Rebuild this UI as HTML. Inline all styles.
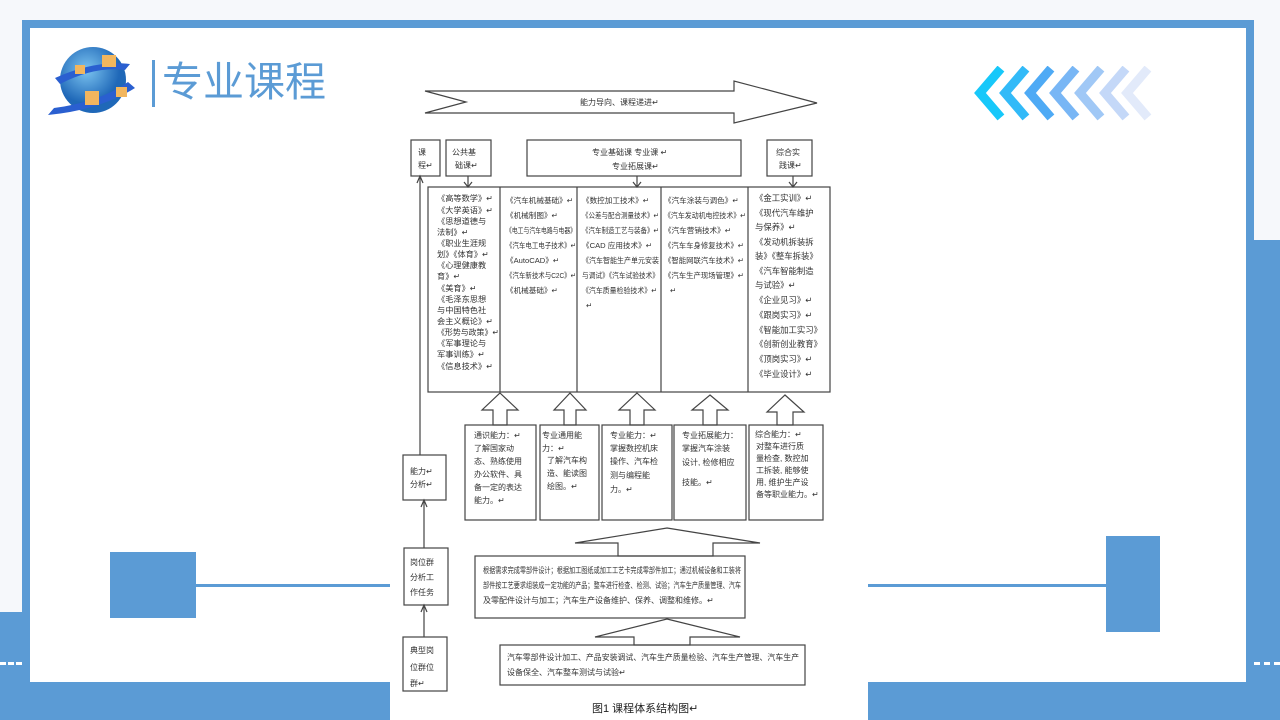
<!DOCTYPE html>
<html><head><meta charset="utf-8"><style>
html,body{margin:0;padding:0;width:1280px;height:720px;overflow:hidden;background:#f6f8fb;position:relative;font-family:"Liberation Sans","Noto Sans CJK SC",sans-serif}
.a{position:absolute}
</style></head><body>
<div class="a" style="left:0;top:612px;width:30px;height:108px;background:#5b9bd5"></div>
<div class="a" style="left:1246px;top:240px;width:34px;height:480px;background:#5b9bd5"></div>
<div class="a" style="left:0;top:682px;width:1280px;height:38px;background:#5b9bd5"></div>
<div class="a" style="left:22px;top:20px;width:1232px;height:662px;background:#5b9bd5"></div>
<div class="a" style="left:30px;top:28px;width:1216px;height:654px;background:#fff"></div>
<div class="a" style="left:0;top:662px;width:22px;height:0;border-top:3px dashed #fff"></div>
<div class="a" style="left:1254px;top:662px;width:26px;height:0;border-top:3px dashed #fff"></div>
<div class="a" style="left:110px;top:552px;width:86px;height:66px;background:#5b9bd5"></div>
<div class="a" style="left:196px;top:584px;width:194px;height:3px;background:#5b9bd5"></div>
<div class="a" style="left:1106px;top:536px;width:54px;height:96px;background:#5b9bd5"></div>
<div class="a" style="left:868px;top:584px;width:238px;height:3px;background:#5b9bd5"></div>
<div class="a" style="left:152px;top:60px;width:3px;height:47px;background:#5b9bd5"></div>
<div class="a" style="left:162px;top:56px;font-size:41px;color:#5b9bd5;line-height:52px">专业课程</div>
<svg class="a" style="left:40px;top:40px" width="100" height="80">
<defs><radialGradient id="g" cx="40%" cy="35%"><stop offset="0" stop-color="#7cc4f0"/><stop offset="1" stop-color="#1f68b8"/></radialGradient></defs>
<circle cx="53" cy="40" r="33" fill="url(#g)"/>
<path d="M8 75 Q60 70 95 48 L88 42 Q60 62 14 68Z" fill="#2a5fd0"/>
<path d="M15 38 Q55 20 90 24 L85 30 Q55 26 20 44Z" fill="#2a5fd0"/>
<rect x="62" y="15" width="14" height="12" fill="#f2b65e"/><rect x="35" y="25" width="10" height="9" fill="#f2b65e"/>
<rect x="45" y="51" width="14" height="14" fill="#f2b65e"/><rect x="76" y="47" width="11" height="10" fill="#f2b65e"/>
</svg>
<svg class="a" style="left:970px;top:66px" width="190" height="56">
<g fill="none" stroke-width="9" stroke-linecap="square">
<polyline points="28,6 10,27 28,48" stroke="#17c8fa"/>
<polyline points="53,6 35,27 53,48" stroke="#32baf8"/>
<polyline points="78,6 60,27 78,48" stroke="#4eaaf5"/>
<polyline points="103,6 85,27 103,48" stroke="#78b6f5"/>
<polyline points="128,6 110,27 128,48" stroke="#a0c8f6"/>
<polyline points="153,6 135,27 153,48" stroke="#c4d8f8"/>
<polyline points="175,6 157,27 175,48" stroke="#e2eafa"/>
</g></svg>
<div class="a" style="left:390px;top:70px;width:478px;height:650px;background:#fff"></div>
<svg class="a" style="left:0;top:0" width="1280" height="720" font-family="Liberation Sans,Noto Sans CJK SC,sans-serif" font-size="8" fill="#333">
<g fill="none" stroke="#444" stroke-width="1.2">
<polygon points="425,91 734,91 734,81 817,103 734,123 734,113 425,113 466,102" fill="#fff"/>
<rect x="411" y="140" width="29" height="36"/><rect x="446" y="140" width="45" height="36"/>
<rect x="527" y="140" width="214" height="36"/><rect x="767" y="140" width="45" height="36"/>
<rect x="428" y="187" width="402" height="205"/>
<line x1="500" y1="187" x2="500" y2="392"/><line x1="577" y1="187" x2="577" y2="392"/>
<line x1="661" y1="187" x2="661" y2="392"/><line x1="748" y1="187" x2="748" y2="392"/>
<line x1="468" y1="176" x2="468" y2="186"/><line x1="637" y1="176" x2="637" y2="186"/><line x1="793" y1="176" x2="793" y2="186"/>
<polyline points="464,182 468,187 472,182"/><polyline points="633,182 637,187 641,182"/><polyline points="789,182 793,187 797,182"/>
<g fill="#fff">
<polygon points="500,393 518,410 507,410 507,425 493,425 493,410 482,410"/>
<polygon points="570,393 586,410 576,410 576,425 564,425 564,410 554,410"/>
<polygon points="637,393 655,410 644,410 644,425 630,425 630,410 619,410"/>
<polygon points="710,395 728,410 717,410 717,425 703,425 703,410 692,410"/>
<polygon points="785,395 804,412 793,412 793,425 777,425 777,412 767,412"/>
</g>
<rect x="465" y="425" width="71" height="95"/><rect x="540" y="425" width="59" height="95"/>
<rect x="602" y="425" width="70" height="95"/><rect x="674" y="425" width="72" height="95"/><rect x="749" y="425" width="74" height="95"/>
<polygon points="667,528 760,543 713,543 713,556 618,556 618,543 575,543" fill="#fff"/>
<rect x="475" y="556" width="270" height="62"/>
<polygon points="667,619 740,637 690,637 690,645 634,645 634,637 595,637" fill="#fff"/>
<rect x="500" y="645" width="305" height="40"/>
<line x1="420" y1="178" x2="420" y2="455"/><polyline points="417,183 420,176 423,183"/>
<rect x="403" y="455" width="43" height="45"/>
<line x1="424" y1="502" x2="424" y2="548"/><polyline points="421,507 424,500 427,507"/>
<rect x="404" y="548" width="44" height="57"/>
<line x1="424" y1="607" x2="424" y2="637"/><polyline points="421,612 424,605 427,612"/>
<rect x="403" y="637" width="44" height="54"/>
</g>
<text x="580" y="105">能力导向、课程递进↵</text>
<text x="418" y="155">课</text><text x="418" y="168">程↵</text>
<text x="452" y="155">公共基</text><text x="455" y="168">础课↵</text>
<text x="592" y="155">专业基础课  专业课 ↵</text><text x="612" y="169">专业拓展课↵</text>
<text x="776" y="155">综合实</text><text x="779" y="168">践课↵</text>
<g font-size="8.2">
<text x="437" y="201">《高等数学》↵</text><text x="437" y="213">《大学英语》↵</text><text x="437" y="224">《思想道德与</text><text x="437" y="235">法制》↵</text><text x="437" y="246">《职业生涯规</text><text x="437" y="257">划》《体育》↵</text><text x="437" y="268">《心理健康教</text><text x="437" y="279">育》↵</text><text x="437" y="291">《美育》↵</text><text x="437" y="302">《毛泽东思想</text><text x="437" y="313">与中国特色社</text><text x="437" y="324">会主义概论》↵</text><text x="437" y="335" textLength="62" lengthAdjust="spacingAndGlyphs">《形势与政策》↵</text><text x="437" y="346">《军事理论与</text><text x="437" y="357">军事训练》↵</text><text x="437" y="369">《信息技术》↵</text>
</g>
<g font-size="7.6">
<text x="506" y="203">《汽车机械基础》↵</text><text x="506" y="218">《机械制图》↵</text><text x="506" y="233" textLength="70" lengthAdjust="spacingAndGlyphs">《电工与汽车电路与电器》</text><text x="506" y="248" textLength="70" lengthAdjust="spacingAndGlyphs">《汽车电工电子技术》↵</text><text x="506" y="263">《AutoCAD》↵</text><text x="506" y="278" textLength="70" lengthAdjust="spacingAndGlyphs">《汽车新技术与C2C》↵</text><text x="506" y="293">《机械基础》↵</text>
<text x="582" y="203">《数控加工技术》↵</text><text x="582" y="218" textLength="77" lengthAdjust="spacingAndGlyphs">《公差与配合测量技术》↵</text><text x="582" y="233" textLength="77" lengthAdjust="spacingAndGlyphs">《汽车制造工艺与装备》↵</text><text x="582" y="248">《CAD 应用技术》↵</text><text x="582" y="263" textLength="77" lengthAdjust="spacingAndGlyphs">《汽车智能生产单元安装</text><text x="582" y="278" textLength="77" lengthAdjust="spacingAndGlyphs">与调试》《汽车试验技术》</text><text x="582" y="293" textLength="75" lengthAdjust="spacingAndGlyphs">《汽车质量检验技术》↵</text><text x="586" y="308">↵</text>
<text x="664" y="203">《汽车涂装与调色》↵</text><text x="664" y="218" textLength="82" lengthAdjust="spacingAndGlyphs">《汽车发动机电控技术》↵</text><text x="664" y="233">《汽车营销技术》↵</text><text x="664" y="248" textLength="80" lengthAdjust="spacingAndGlyphs">《汽车车身修复技术》↵</text><text x="664" y="263" textLength="80" lengthAdjust="spacingAndGlyphs">《智能网联汽车技术》↵</text><text x="664" y="278" textLength="80" lengthAdjust="spacingAndGlyphs">《汽车生产现场管理》↵</text><text x="670" y="293">↵</text>
</g>
<g font-size="8.4">
<text x="755" y="201">《金工实训》↵</text><text x="755" y="216">《现代汽车维护</text><text x="755" y="230">与保养》↵</text><text x="755" y="245">《发动机拆装拆</text><text x="755" y="259">装》《整车拆装》</text><text x="755" y="274">《汽车智能制造</text><text x="755" y="288">与试验》↵</text><text x="755" y="303">《企业见习》↵</text><text x="755" y="318">《跟岗实习》↵</text><text x="755" y="333">《智能加工实习》</text><text x="755" y="347">《创新创业教育》</text><text x="755" y="362">《顶岗实习》↵</text><text x="755" y="377">《毕业设计》↵</text>
</g>
<g font-size="8">
<text x="474" y="438">通识能力：↵</text><text x="474" y="451">了解国家动</text><text x="474" y="464">态、熟练使用</text><text x="474" y="477">办公软件、具</text><text x="474" y="490">备一定的表达</text><text x="474" y="503">能力。↵</text>
<text x="542" y="438">专业通用能</text><text x="542" y="451">力：↵</text><text x="547" y="463">了解汽车构</text><text x="547" y="476">造、能读图</text><text x="547" y="489">绘图。↵</text>
<text x="610" y="438">专业能力：↵</text><text x="610" y="451">掌握数控机床</text><text x="610" y="464">操作、汽车检</text><text x="610" y="478">测与编程能</text><text x="610" y="492">力。↵</text>
<text x="682" y="438">专业拓展能力：</text><text x="682" y="451">掌握汽车涂装</text><text x="682" y="465">设计, 检修相应</text><text x="682" y="485">技能。↵</text>
<text x="755" y="437">综合能力：↵</text><text x="756" y="449">对整车进行质</text><text x="756" y="461">量检查, 数控加</text><text x="756" y="473">工拆装, 能够使</text><text x="756" y="485">用, 维护生产设</text><text x="756" y="497">备等职业能力。↵</text>
</g>
<g font-size="8">
<text x="410" y="474">能力↵</text><text x="410" y="487">分析↵</text>
<text x="410" y="565">岗位群</text><text x="410" y="580">分析工</text><text x="410" y="595">作任务</text>
<text x="410" y="653">典型岗</text><text x="410" y="670">位群位</text><text x="410" y="686">群↵</text>
<text x="483" y="573" textLength="258" lengthAdjust="spacingAndGlyphs">根据需求完成零部件设计；根据加工图纸或加工工艺卡完成零部件加工；通过机械设备和工装将</text>
<text x="483" y="588" textLength="258" lengthAdjust="spacingAndGlyphs">部件按工艺要求组装成一定功能的产品；整车进行检查、检测、试验；汽车生产质量管理、汽车</text>
<text x="483" y="603">及零配件设计与加工；汽车生产设备维护、保养、调整和维修。↵</text>
<text x="507" y="660" textLength="292" lengthAdjust="spacingAndGlyphs">汽车零部件设计加工、产品安装调试、汽车生产质量检验、汽车生产管理、汽车生产</text>
<text x="507" y="675">设备保全、汽车整车测试与试验↵</text>
</g>
<text x="592" y="712" font-size="11" fill="#222">图1 课程体系结构图↵</text>
</svg>
</body></html>
